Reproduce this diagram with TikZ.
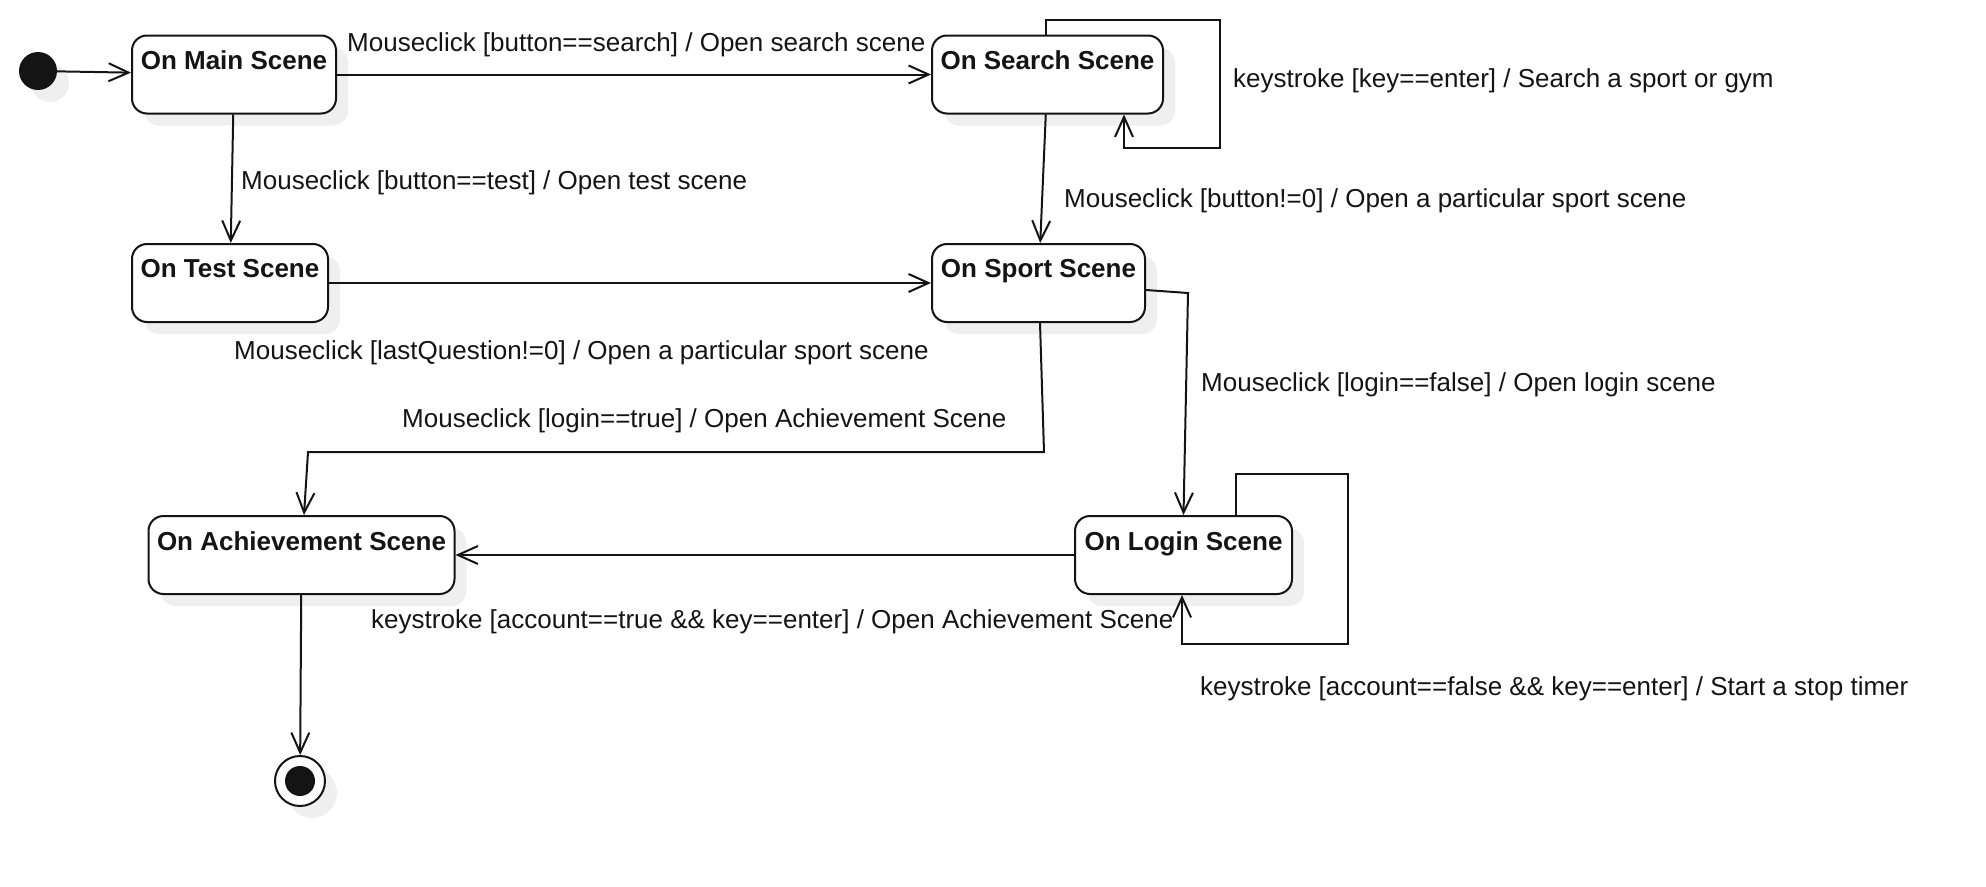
\documentclass[tikz,border=0pt]{standalone}
\usepackage{fontspec}
\setmainfont{Liberation Sans}
\usetikzlibrary{arrows.meta,shadows}
\definecolor{ink}{HTML}{141414}
\definecolor{shade}{HTML}{EFEFEF}

\begin{document}
\begin{tikzpicture}[x=1pt,y=-1pt,font=\fontsize{26}{31}\selectfont,text=ink,
  state/.style={draw=ink,line width=2pt,rounded corners=15pt,fill=white,minimum height=78pt,
    drop shadow={shadow xshift=12pt,shadow yshift=-12pt,fill=shade,opacity=1}},
  statelabel/.style={font=\fontsize{26}{31}\selectfont\bfseries,anchor=north,yshift=-13pt},
  init/.style={circle,fill=ink,minimum size=38pt,inner sep=0pt,
    drop shadow={shadow xshift=12pt,shadow yshift=-12pt,fill=shade,opacity=1}},
  final/.style={circle,draw=ink,line width=2pt,fill=white,minimum size=50pt,inner sep=0pt,
    drop shadow={shadow xshift=12pt,shadow yshift=-12pt,fill=shade,opacity=1},
    path picture={\fill[ink] (path picture bounding box.center) circle (15pt);}},
  tr/.style={draw=ink,line width=2pt,-{Straight Barb[length=20pt,width=18pt,line width=2pt]}},
  lbl/.style={anchor=base west,inner sep=0pt}]
\useasboundingbox (0,0) rectangle (1986,886);

\node[init] (start) at (38,71) {};
\node[state,minimum width=204pt,label={[statelabel]north:On Main Scene}] (main) at (234,74.5) {};
\node[state,minimum width=231pt,label={[statelabel]north:On Search Scene}] (search) at (1047.5,74.5) {};
\node[state,minimum width=196pt,label={[statelabel]north:On Test Scene}] (test) at (230,283) {};
\node[state,minimum width=213pt,label={[statelabel]north:On Sport Scene}] (sport) at (1038.5,283) {};
\node[state,minimum width=306pt,label={[statelabel]north:On Achievement Scene}] (ach) at (301.5,555) {};
\node[state,minimum width=217pt,label={[statelabel]north:On Login Scene}] (login) at (1183.5,555) {};
\node[final] (end) at (300,781) {};

\draw[tr] (start) -- (main);
\draw[tr] (main) -- (search);
\draw[tr] (main) -- (test);
\draw[tr] (test) -- (sport);
\draw[tr] (search) -- (sport);
\draw[tr] ([xshift=-1.5pt]search.north) |- (1220,20) |- (1124,148) -- (search.south -| 1124,0);
\draw[tr] ([yshift=-7pt]sport.east) -- (1188,293) -- (login.north);
\draw[tr] ([xshift=1.5pt]sport.south) -- (1044,452) -- (308,452) -- ([xshift=2.5pt]ach.north);
\draw[tr] (login) -- (ach);
\draw[tr] ([xshift=52pt]login.north) |- (1348,474) |- (1182,644) -- (login.south -| 1182,0);
\draw[tr] (ach) -- (end);

% transition labels
\node[lbl] (lsearch) at (347,51) {Mouseclick [button==search] / Open search scene};
\node[lbl] (lkey) at (1233,87.5) {keystroke [key==enter] / Search a sport or gym};
\node[lbl] (ltest) at (241,189) {Mouseclick [button==test] / Open test scene};
\node[lbl] (lbutton) at (1064,207.5) {Mouseclick [button!=0] / Open a particular sport scene};
\node[lbl] (lquest) at (234,359) {Mouseclick [lastQuestion!=0] / Open a particular sport scene};
\node[lbl] (lfalse) at (1201,391) {Mouseclick [login==false] / Open login scene};
\node[lbl] (ltrue) at (402,427) {Mouseclick [login==true] / Open Achievement Scene};
\node[lbl] (lacc) at (371,628.5) {keystroke [account==true \&\& key==enter] / Open Achievement Scene};
\node[lbl] (ltimer) at (1200,695) {keystroke [account==false \&\& key==enter] / Start a stop timer};
\end{tikzpicture}
\end{document}
